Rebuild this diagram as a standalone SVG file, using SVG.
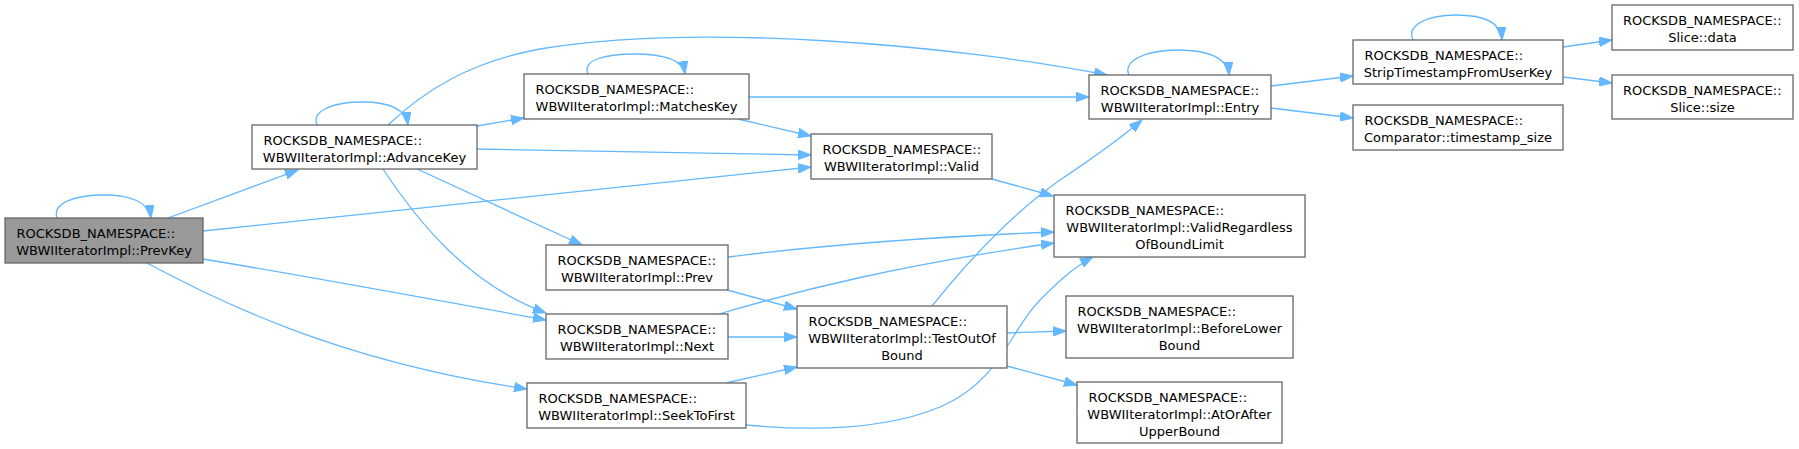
<svg xmlns="http://www.w3.org/2000/svg" width="1799" height="449" viewBox="0 0 1799 449">
<defs>
<marker id="ah" markerUnits="userSpaceOnUse" markerWidth="14" markerHeight="10" refX="13" refY="5" orient="auto">
<path d="M0,0.3 L13,5 L0,9.7 z" fill="#63b8ff" stroke="#63b8ff" stroke-width="1"/>
</marker>
</defs>
<style>
.n rect{fill:#ffffff;stroke:#666666;stroke-width:1.3}
.n.cur rect{fill:#999999}
.n text{font-family:"DejaVu Sans","Liberation Sans",sans-serif;font-size:13px;fill:#000000}
.n .c{text-anchor:middle}
#edges path{fill:none;stroke:#63b8ff;stroke-width:1.3;marker-end:url(#ah)}
</style>
<rect width="1799" height="449" fill="#ffffff"/>
<g id="edges">
<path d="M57,218 C52,203 75,195 104,195 C130,195 149,202 151,218"/>
<path d="M168,218 L298,170"/>
<path d="M203,231 L811,167"/>
<path d="M203,259 C300,275 420,297 546,320"/>
<path d="M147,263 C210,296 330,360 527,389"/>
<path d="M317,125 C311,110 335,102 362,102 C390,102 406,110 408,125"/>
<path d="M388,125 C425,90 470,62 540,49 C700,22 960,46 1107,75"/>
<path d="M477,126 L524,118"/>
<path d="M477,149 L811,155"/>
<path d="M417,169 L582,245"/>
<path d="M383,169 C420,225 470,285 546,313"/>
<path d="M588,74 C582,60 605,54 634,54 C664,54 683,60 685,74"/>
<path d="M749,97 L1089,97"/>
<path d="M738,119 L811,136"/>
<path d="M992,179 L1053,196"/>
<path d="M1129,75 C1122,60 1148,50 1178,50 C1208,50 1228,58 1229,75"/>
<path d="M1271,86 L1353,76"/>
<path d="M1271,108 L1353,118"/>
<path d="M1413,40 C1406,25 1428,15 1456,15 C1485,15 1501,23 1502,40"/>
<path d="M1563,47 L1612,40"/>
<path d="M1563,77 L1612,83"/>
<path d="M728,257 C800,248 900,238 1054,232"/>
<path d="M727,290 L797,309"/>
<path d="M719,314 C800,290 900,265 1054,243"/>
<path d="M728,337 L797,337"/>
<path d="M726,383 L797,367"/>
<path d="M746,425 C800,430 880,432 940,407 C1000,382 1010,330 1040,300 C1055,285 1072,268 1093,257"/>
<path d="M932,306 C965,265 1010,215 1060,180 C1090,160 1115,143 1142,120"/>
<path d="M1007,333 L1066,331"/>
<path d="M1007,366 L1077,385"/>
</g>
<g id="prevkey" class="n cur"><rect x="5" y="218" width="198" height="45"/><text x="16.5" y="237.5">ROCKSDB_NAMESPACE::</text><text class="c" x="104" y="254.5">WBWIIteratorImpl::PrevKey</text></g>
<g id="advancekey" class="n"><rect x="252" y="125" width="225" height="44"/><text x="263.5" y="144.5">ROCKSDB_NAMESPACE::</text><text class="c" x="364.5" y="161.5">WBWIIteratorImpl::AdvanceKey</text></g>
<g id="matcheskey" class="n"><rect x="524" y="74" width="225" height="45"/><text x="535.5" y="93.5">ROCKSDB_NAMESPACE::</text><text class="c" x="636.5" y="110.5">WBWIIteratorImpl::MatchesKey</text></g>
<g id="valid" class="n"><rect x="811" y="134" width="181" height="45"/><text x="822.5" y="153.5">ROCKSDB_NAMESPACE::</text><text class="c" x="901.5" y="170.5">WBWIIteratorImpl::Valid</text></g>
<g id="entry" class="n"><rect x="1089" y="75" width="182" height="44"/><text x="1100.5" y="94.5">ROCKSDB_NAMESPACE::</text><text class="c" x="1180" y="111.5">WBWIIteratorImpl::Entry</text></g>
<g id="strip" class="n"><rect x="1353" y="40" width="210" height="44"/><text x="1364.5" y="59.5">ROCKSDB_NAMESPACE::</text><text class="c" x="1458" y="76.5">StripTimestampFromUserKey</text></g>
<g id="comparator" class="n"><rect x="1353" y="105" width="210" height="45"/><text x="1364.5" y="124.5">ROCKSDB_NAMESPACE::</text><text class="c" x="1458" y="141.5">Comparator::timestamp_size</text></g>
<g id="slicedata" class="n"><rect x="1612" y="5" width="181" height="45"/><text x="1623" y="24.5">ROCKSDB_NAMESPACE::</text><text class="c" x="1702.5" y="41.5">Slice::data</text></g>
<g id="slicesize" class="n"><rect x="1612" y="75" width="181" height="44"/><text x="1623" y="94.5">ROCKSDB_NAMESPACE::</text><text class="c" x="1702.5" y="111.5">Slice::size</text></g>
<g id="prev" class="n"><rect x="546" y="245" width="182" height="45"/><text x="557.5" y="264.5">ROCKSDB_NAMESPACE::</text><text class="c" x="637" y="281.5">WBWIIteratorImpl::Prev</text></g>
<g id="next" class="n"><rect x="546" y="314" width="182" height="45"/><text x="557.5" y="333.5">ROCKSDB_NAMESPACE::</text><text class="c" x="637" y="350.5">WBWIIteratorImpl::Next</text></g>
<g id="seektofirst" class="n"><rect x="527" y="383" width="219" height="45"/><text x="538.5" y="402.5">ROCKSDB_NAMESPACE::</text><text class="c" x="636.5" y="419.5">WBWIIteratorImpl::SeekToFirst</text></g>
<g id="testoutofbound" class="n"><rect x="797" y="306" width="210" height="62"/><text x="808.5" y="325.5">ROCKSDB_NAMESPACE::</text><text class="c" x="902" y="342.5">WBWIIteratorImpl::TestOutOf</text><text class="c" x="902" y="359.5">Bound</text></g>
<g id="validregardless" class="n"><rect x="1054" y="195" width="251" height="62"/><text x="1065.5" y="214.5">ROCKSDB_NAMESPACE::</text><text class="c" x="1179.5" y="231.5">WBWIIteratorImpl::ValidRegardless</text><text class="c" x="1179.5" y="248.5">OfBoundLimit</text></g>
<g id="beforelower" class="n"><rect x="1066" y="296" width="227" height="62"/><text x="1077.5" y="315.5">ROCKSDB_NAMESPACE::</text><text class="c" x="1179.5" y="332.5">WBWIIteratorImpl::BeforeLower</text><text class="c" x="1179.5" y="349.5">Bound</text></g>
<g id="atorafter" class="n"><rect x="1077" y="382" width="205" height="61"/><text x="1088.5" y="401.5">ROCKSDB_NAMESPACE::</text><text class="c" x="1179.5" y="418.5">WBWIIteratorImpl::AtOrAfter</text><text class="c" x="1179.5" y="435.5">UpperBound</text></g>
</svg>
